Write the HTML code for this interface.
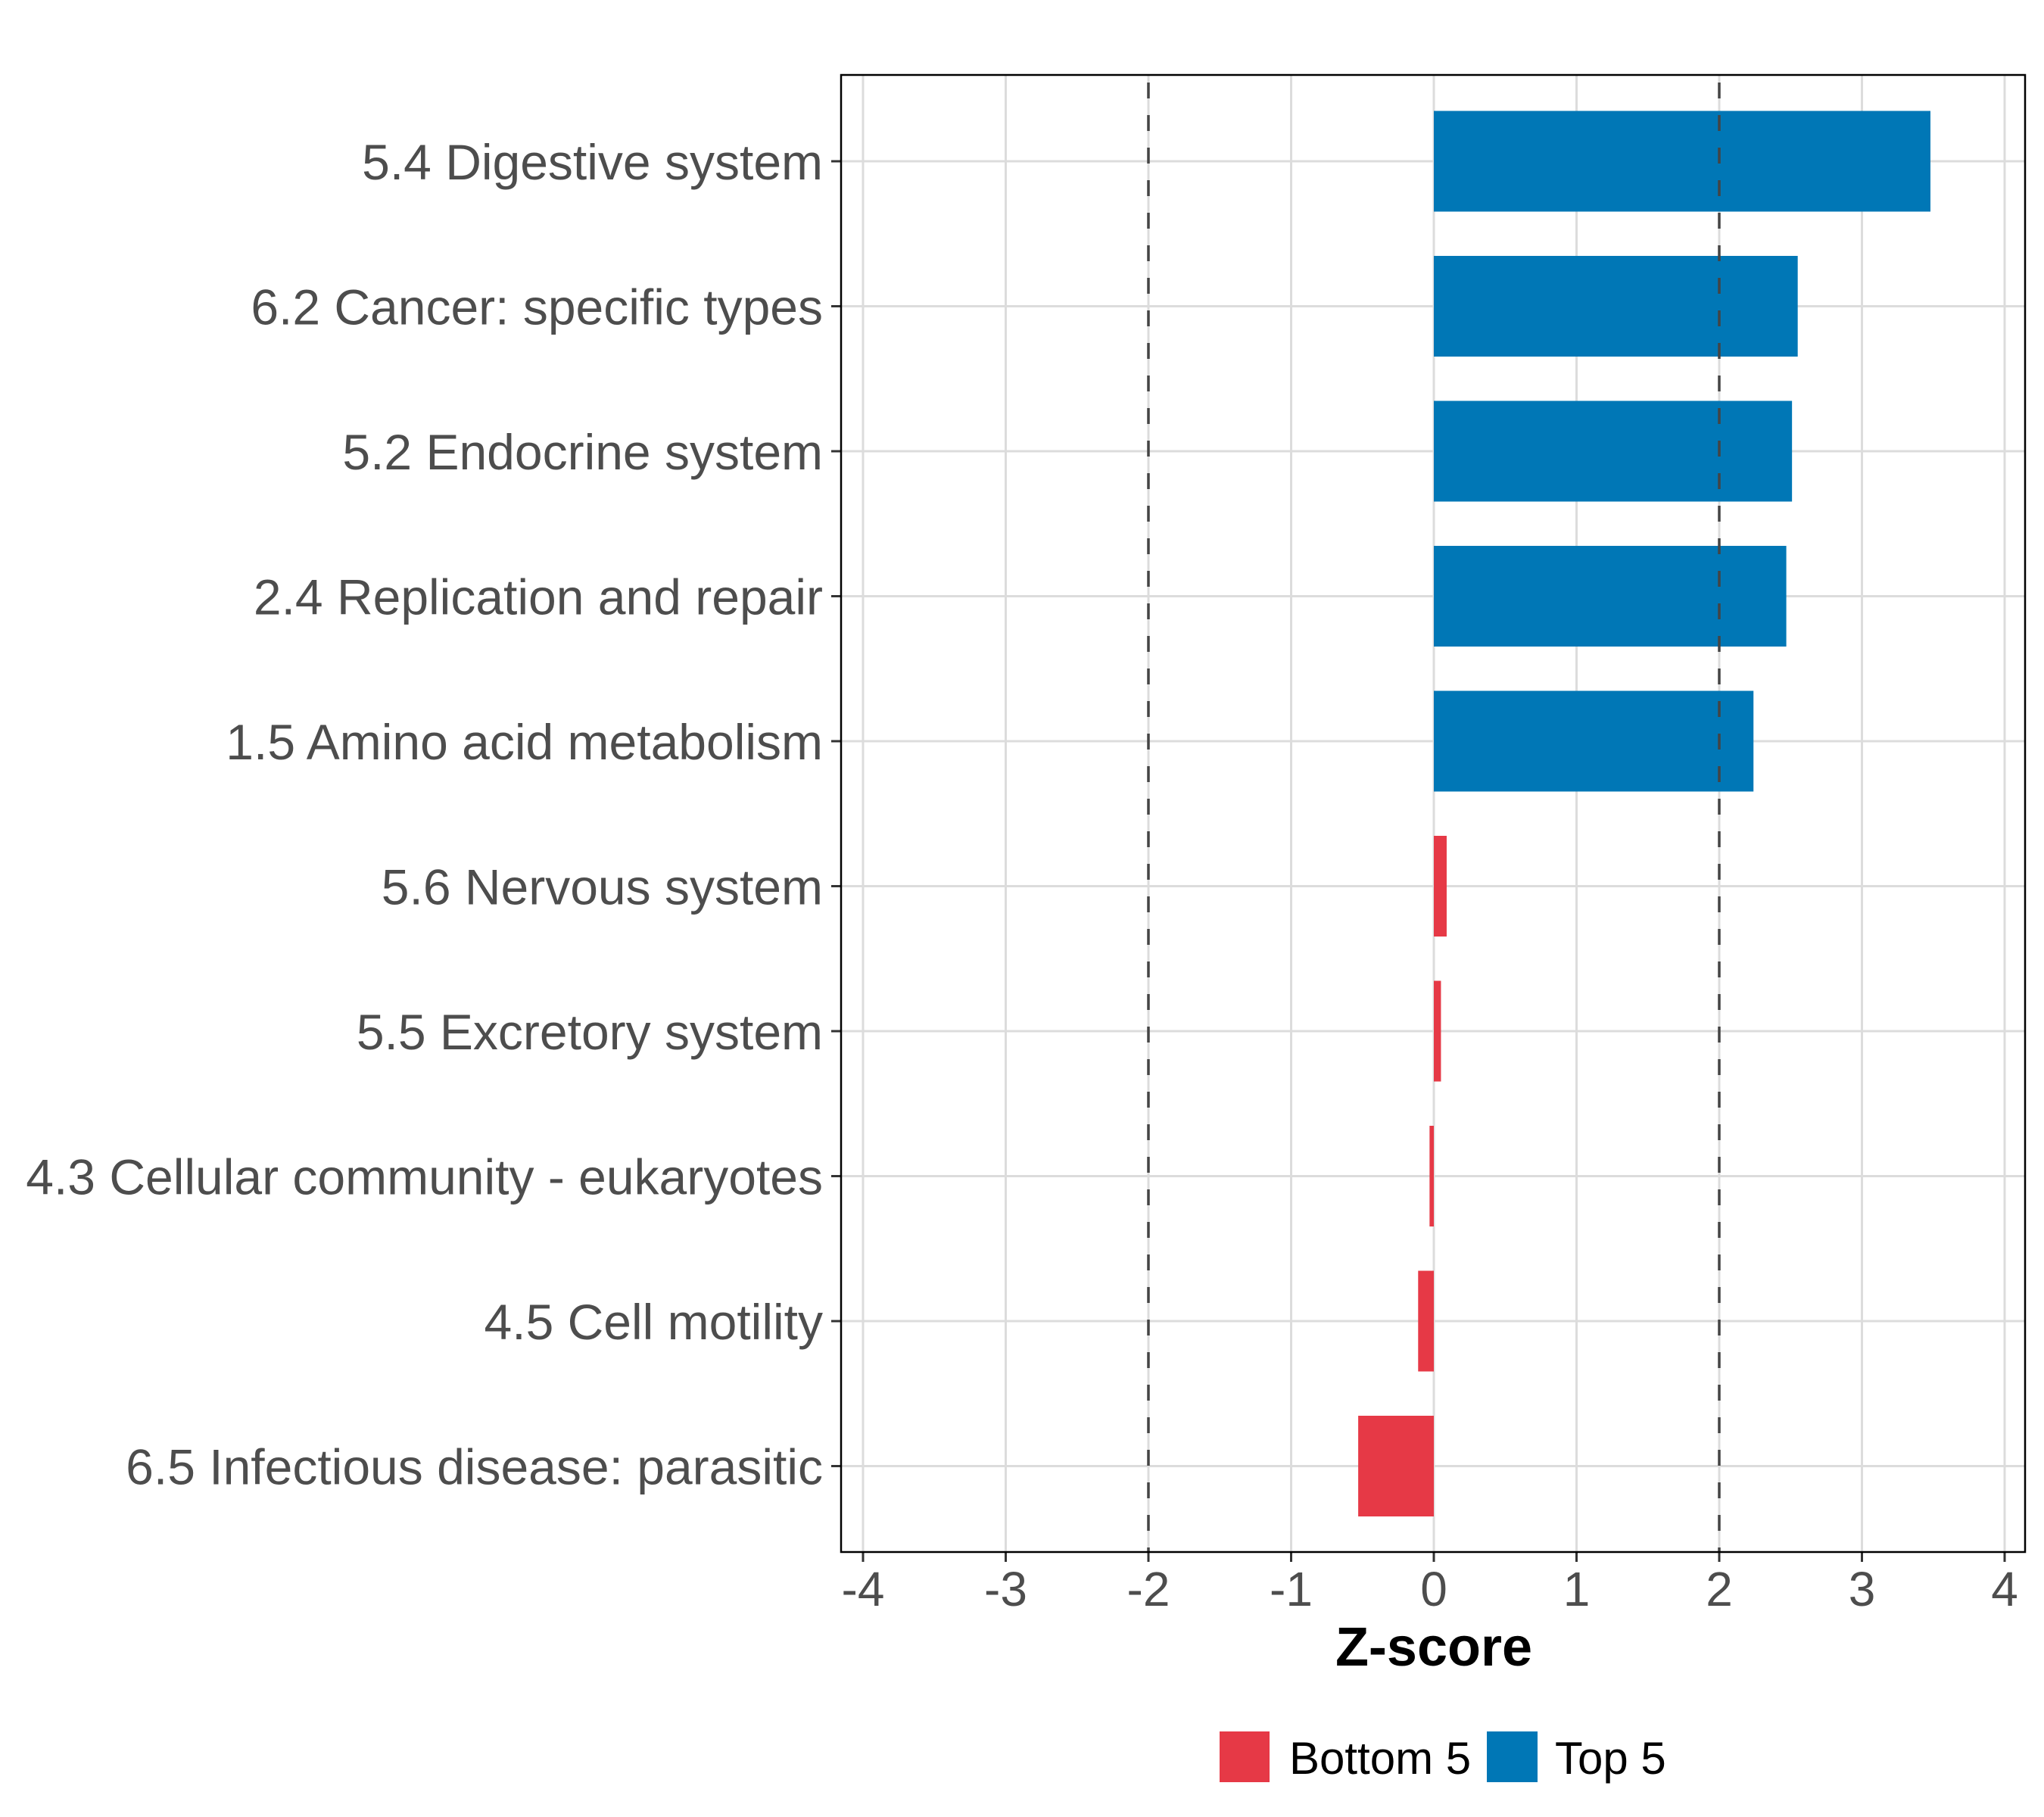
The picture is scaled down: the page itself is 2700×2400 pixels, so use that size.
<!DOCTYPE html>
<html><head><meta charset="utf-8"><style>
body{margin:0;background:#fff}
svg{display:block;font-family:"Liberation Sans",Arial,sans-serif}
</style></head><body>
<svg id="chart" width="2700" height="2400" viewBox="0 0 2700 2400">
<rect x="0" y="0" width="2700" height="2400" fill="#fff"/>
<g id="grid"></g><g id="bars"></g><g id="refs"></g><g id="axes"></g>
<g id="legend">
 <rect x="1611" y="2287" width="66" height="67" fill="#E63946"/>
 <text x="1703" y="2343" font-size="60" fill="#000">Bottom 5</text>
 <rect x="1964" y="2287" width="67" height="67" fill="#0077B6"/>
 <text x="2054" y="2343" font-size="60" fill="#000">Top 5</text>
</g>
<text x="1894" y="2200" font-size="72" font-weight="bold" text-anchor="middle" fill="#000">Z-score</text>
</svg>
<script>
const categories=["5.4 Digestive system","6.2 Cancer: specific types","5.2 Endocrine system","2.4 Replication and repair","1.5 Amino acid metabolism","5.6 Nervous system","5.5 Excretory system","4.3 Cellular community - eukaryotes","4.5 Cell motility","6.5 Infectious disease: parasitic"];
const zscores=[3.48,2.55,2.51,2.47,2.24,0.09,0.05,-0.03,-0.11,-0.53];
const groups=["Top 5","Top 5","Top 5","Top 5","Top 5","Bottom 5","Bottom 5","Bottom 5","Bottom 5","Bottom 5"];
const xTicks=[-4,-3,-2,-1,0,1,2,3,4];
const tickLabels=["-4","-3","-2","-1","0","1","2","3","4"];
const refLines=[-2,2];
const colors={"Top 5":"#0077B6","Bottom 5":"#E63946"};

const NS="http://www.w3.org/2000/svg";
const L=1111,R=2675,T=99,B=2050;
const xs=v=>1894+v*188.5;
const ys=i=>213+i*191.5;
const bw=133;
function mk(p,tag,a){const e=document.createElementNS(NS,tag);for(const k in a)e.setAttribute(k,a[k]);p.appendChild(e);return e;}
const grid=document.getElementById('grid'),bars=document.getElementById('bars'),refs=document.getElementById('refs'),axes=document.getElementById('axes');
xTicks.forEach((t,i)=>{
 const g=mk(grid,'line',{x1:xs(t),x2:xs(t),y1:T,y2:B,stroke:'#dcdcdc','stroke-width':3});
 
 
 const tk=mk(axes,'line',{x1:xs(t),x2:xs(t),y1:B,y2:B+13,stroke:'#333','stroke-width':3});
 
 
 const lb=mk(axes,'text',{x:xs(t),y:2121,'font-size':64,'text-anchor':'middle',fill:'#4d4d4d'});
 lb.textContent=tickLabels[i];
 
 
});
categories.forEach((c,i)=>{
 const g=mk(grid,'line',{x1:L,x2:R,y1:ys(i),y2:ys(i),stroke:'#dcdcdc','stroke-width':3});
 
 
 const v=zscores[i];
 const b=mk(bars,'rect',{x:Math.min(xs(0),xs(v)),y:ys(i)-bw/2,width:Math.abs(xs(v)-xs(0)),height:bw,fill:colors[groups[i]]});
 
 
 const tk=mk(axes,'line',{x1:L-13,x2:L,y1:ys(i),y2:ys(i),stroke:'#333','stroke-width':3});
 
 
 const lb=mk(axes,'text',{x:1087,y:ys(i)+24,'font-size':66,'text-anchor':'end',fill:'#4d4d4d'});
 lb.textContent=c;
 
 
});
refLines.forEach(r=>{
 const l=mk(refs,'line',{x1:xs(r),x2:xs(r),y1:T,y2:B,stroke:'#444','stroke-width':3.5,'stroke-dasharray':'21 22','stroke-dashoffset':'-10'});
 
 
});
const f=mk(axes,'rect',{x:L,y:T,width:R-L,height:B-T,fill:'none',stroke:'#000','stroke-width':2.5});


</script>
</body></html>
